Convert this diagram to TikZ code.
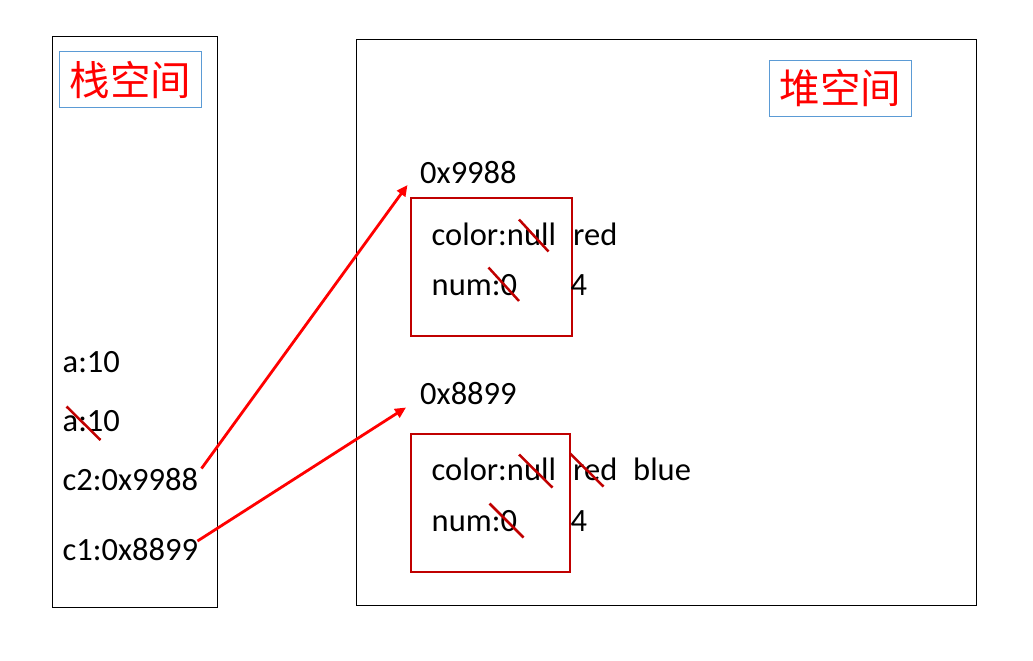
\documentclass[tikz,border=0pt]{standalone}
\usepackage{fontspec}
\setmainfont{Carlito}
\newfontfamily\cjk{Noto Sans CJK SC}
\usetikzlibrary{arrows.meta}
\definecolor{dred}{HTML}{C00000}
\definecolor{bblue}{HTML}{5B9BD5}
\tikzset{
  txt/.style={anchor=base west,inner sep=0pt,font=\fontsize{32.5}{36}\selectfont},
  frame/.style={draw=black,line width=1pt},
  objbox/.style={draw=dred,line width=2pt},
  title/.style={draw=bblue,line width=1pt,text=red,font=\cjk\fontsize{40.5}{44}\selectfont,inner sep=0pt},
  strike/.style={draw=dred,line width=2.5pt},
  ptr/.style={draw=red,line width=2.8pt,-{Triangle[length=11pt,width=10pt]}},
}
\begin{document}
\begin{tikzpicture}[x=1pt,y=-1pt]
\useasboundingbox (0,0) rectangle (1033,661);
% frames
\node[frame,minimum width=165pt,minimum height=570pt,inner sep=0pt,anchor=north west] (stack) at (51.5,36.5) {};
\node[frame,minimum width=620pt,minimum height=565pt,inner sep=0pt,anchor=north west] (heap) at (356,39.5) {};
% titles
\node[title,minimum width=142pt,minimum height=56pt,anchor=north west] (ts) at (59,51) {栈空间};
\node[title,minimum width=142pt,minimum height=56pt,anchor=north west] (th) at (769,60) {堆空间};
% object boxes
\node[objbox,minimum width=161pt,minimum height=138pt,inner sep=0pt,anchor=north west] (o1) at (409.5,197) {};
\node[objbox,minimum width=159pt,minimum height=138.5pt,inner sep=0pt,anchor=north west] (o2) at (409.5,432.5) {};
% heap texts
\node[txt] (ad1) at (420,183) {0x9988};
\node[txt] (col1) at (431.5,245.5) {color:null};
\node[txt] (red1) at (573,245.5) {red};
\node[txt] (num1) at (431.5,295.5) {num:0};
\node[txt] (four1) at (570.5,295.5) {4};
\node[txt] (ad2) at (420,404) {0x8899};
\node[txt] (col2) at (431.5,480.5) {color:null};
\node[txt] (red2) at (573,480.5) {red};
\node[txt] (blue2) at (633,480.5) {blue};
\node[txt] (num2) at (431.5,531) {num:0};
\node[txt] (four2) at (570.5,531) {4};
% stack texts
\node[txt] (a1) at (62.5,372.5) {a:10};
\node[txt] (a2) at (62.5,431) {a:10};
\node[txt] (c2) at (62.5,490) {c2:0x9988};
\node[txt] (c1) at (62.5,560) {c1:0x8899};
% strikes
\draw[strike] (519,219.5) -- (548.5,251.5);
\draw[strike] (488.5,267.5) -- (519,301);
\draw[strike] (519,454.5) -- (552.5,487.5);
\draw[strike] (570,453.5) -- (603.5,486.5);
\draw[strike] (489.5,503.5) -- (523.5,537.5);
\draw[strike] (66.5,406.5) -- (100.5,440);
% pointers
\coordinate (s2) at (201.5,468.5);
\coordinate (e2) at (407.5,185);
\coordinate (s1) at (197.5,541);
\coordinate (e1) at (406,407.5);
\draw[ptr] (s2) -- (e2);
\draw[ptr] (s1) -- (e1);
\end{tikzpicture}
\end{document}
